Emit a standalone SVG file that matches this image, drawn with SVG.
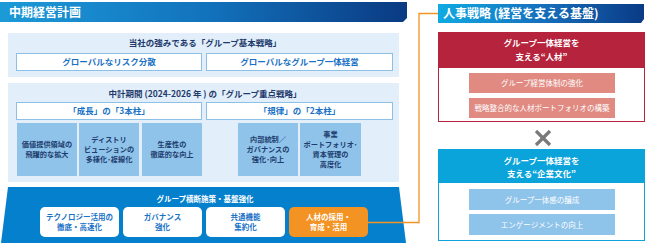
<svg xmlns="http://www.w3.org/2000/svg" width="648" height="243" viewBox="0 0 648 243">
<defs>
<linearGradient id="gL" x1="0" y1="0" x2="1" y2="0">
<stop offset="0" stop-color="#1c9ad8"/>
<stop offset="0.5" stop-color="#1273bd"/>
<stop offset="1" stop-color="#0a3a82"/>
</linearGradient>
<linearGradient id="gR" x1="0" y1="0" x2="1" y2="0">
<stop offset="0" stop-color="#10aae2"/>
<stop offset="0.5" stop-color="#1670bd"/>
<stop offset="1" stop-color="#0a3a85"/>
</linearGradient>
<style>
text{font-family:"Noto Sans CJK JP","Noto Sans",sans-serif;font-weight:bold;text-anchor:middle}
.hd{fill:#fff;font-size:12px;text-anchor:start}
.panel{fill:#e2eef9}
.ttl{fill:#1d3a6b;font-size:8.5px}
.wb{fill:#fff;stroke:#8cc0e6;stroke-width:1}
.wbt{fill:#1a72c6;font-size:8.5px}
.mb{fill:#8fc3ea}
.mbt{fill:#1d3d6e;font-size:7.2px}
.rb{fill:#fff;rx:5px}
.rbt{fill:#1a72c6;font-size:7.5px}
.wt{fill:#fff}
.pk{fill:#e08a82}
.lb{fill:#8ec3ea}
.st{fill:#fff;font-size:7.5px;font-weight:normal}
.ht{fill:#fff;font-size:8.5px}
</style>
</defs>

<g id="header-left">
<path d="M0 2H407V18L403 22H0Z" fill="url(#gL)"/>
<text class="hd" x="9" y="16.5">中期経営計画</text>
</g>

<g id="header-right">
<path d="M438 4H644V19L641 23H438Z" fill="url(#gR)"/>
<text class="hd" x="443" y="18">人事戦略 (経営を支える基盤)</text>
</g>

<g id="base-strategy">
<rect class="panel" x="8" y="33" width="391" height="44"/>
<text class="ttl" x="205" y="46">当社の強みである「グループ基本戦略」</text>
<g id="risk"><rect class="wb" x="16.5" y="53.5" width="185" height="17"/><text class="wbt" x="109" y="65">グローバルなリスク分散</text></g>
<g id="global"><rect class="wb" x="206.5" y="53.5" width="186" height="17"/><text class="wbt" x="299.5" y="65">グローバルなグループ一体経営</text></g>
</g>

<g id="focus-strategy">
<rect class="panel" x="8" y="83" width="391" height="99"/>
<text class="ttl" x="205" y="97">中計期間 (2024-2026 年 ) の「グループ重点戦略」</text>
<g id="growth"><rect class="wb" x="16.5" y="102.5" width="185" height="17"/><text class="wbt" x="109" y="114">「成長」の「3本柱」</text></g>
<g id="discipline"><rect class="wb" x="206.5" y="102.5" width="186" height="17"/><text class="wbt" x="299.5" y="114">「規律」の「2本柱」</text></g>
<g id="p1"><rect class="mb" x="17" y="123" width="60" height="53"/><text class="mbt" x="47" y="147">価値提供領域の</text><text class="mbt" x="47" y="157">飛躍的な拡大</text></g>
<g id="p2"><rect class="mb" x="79" y="123" width="60" height="53"/><text class="mbt" x="109" y="142">ディストリ</text><text class="mbt" x="109" y="152">ビューションの</text><text class="mbt" x="109" y="162">多様化･複線化</text></g>
<g id="p3"><rect class="mb" x="142" y="123" width="60" height="53"/><text class="mbt" x="172" y="147">生産性の</text><text class="mbt" x="172" y="157">徹底的な向上</text></g>
<g id="p4"><rect class="mb" x="238" y="123" width="60" height="53"/><text class="mbt" x="268" y="142">内部統制／</text><text class="mbt" x="268" y="152">ガバナンスの</text><text class="mbt" x="268" y="162">強化･向上</text></g>
<g id="p5"><rect class="mb" x="300" y="123" width="61" height="53"/><text class="mbt" x="330.5" y="137">事業</text><text class="mbt" x="330.5" y="147">ポートフォリオ･</text><text class="mbt" x="330.5" y="157">資本管理の</text><text class="mbt" x="330.5" y="167">高度化</text></g>
</g>

<g id="cross-group">
<path d="M8 187H399L406 243H1Z" fill="#0580cc"/>
<text class="wt" x="205" y="202" style="font-size:7.5px">グループ横断施策・基盤強化</text>
<g id="tech"><rect class="rb" x="40" y="207" width="79" height="30"/><text class="rbt" x="79.5" y="219.5">テクノロジー活用の</text><text class="rbt" x="79.5" y="229.5">徹底・高速化</text></g>
<g id="gov"><rect class="rb" x="123" y="207" width="79" height="30"/><text class="rbt" x="162.5" y="219.5">ガバナンス</text><text class="rbt" x="162.5" y="229.5">強化</text></g>
<g id="common"><rect class="rb" x="206" y="207" width="79" height="30"/><text class="rbt" x="245.5" y="219.5">共通機能</text><text class="rbt" x="245.5" y="229.5">集約化</text></g>
<g id="talent"><rect x="289" y="207" width="79" height="30" rx="5" fill="#f39323"/><text class="rbt" x="328.5" y="219.5" style="fill:#fff">人材の採用・</text><text class="rbt" x="328.5" y="229.5" style="fill:#fff">育成・活用</text></g>
</g>

<g id="connectors">
<polyline points="368,222.5 419,222.5 419,13.5 438,13.5" fill="none" stroke="#f39323" stroke-width="1.3"/>
<g id="cross-mark" stroke="#7a7a7a" stroke-width="3.2">
<line x1="536" y1="131" x2="550" y2="145"/>
<line x1="550" y1="131" x2="536" y2="145"/>
</g>
</g>

<g id="talent-box">
<rect x="438.5" y="32.5" width="206" height="89" fill="#fff" stroke="#b5233d" stroke-width="1"/>
<rect x="438" y="32" width="207" height="36" fill="#b5233d"/>
<text class="ht" x="541.5" y="46">グループ一体経営を</text>
<text class="ht" x="541.5" y="59.5">支える“人材”</text>
<g id="t1"><rect class="pk" x="469" y="73" width="146" height="20"/><text class="st" x="542" y="86">グループ経営体制の強化</text></g>
<g id="t2"><rect class="pk" x="469" y="98" width="146" height="20"/><text class="st" x="542" y="111">戦略整合的な人材ポートフォリオの構築</text></g>
</g>

<g id="culture-box">
<rect x="438.5" y="149.5" width="206" height="91" fill="#fff" stroke="#10a3dc" stroke-width="1"/>
<rect x="438" y="149" width="207" height="34" fill="#0aa3da"/>
<text class="ht" x="541.5" y="164">グループ一体経営を</text>
<text class="ht" x="541.5" y="176.5">支える“企業文化”</text>
<g id="c1"><rect class="lb" x="469" y="189" width="146" height="21"/><text class="st" x="542" y="202.5">グループ一体感の醸成</text></g>
<g id="c2"><rect class="lb" x="469" y="214" width="146" height="21"/><text class="st" x="542" y="227.5">エンゲージメントの向上</text></g>
</g>
</svg>
